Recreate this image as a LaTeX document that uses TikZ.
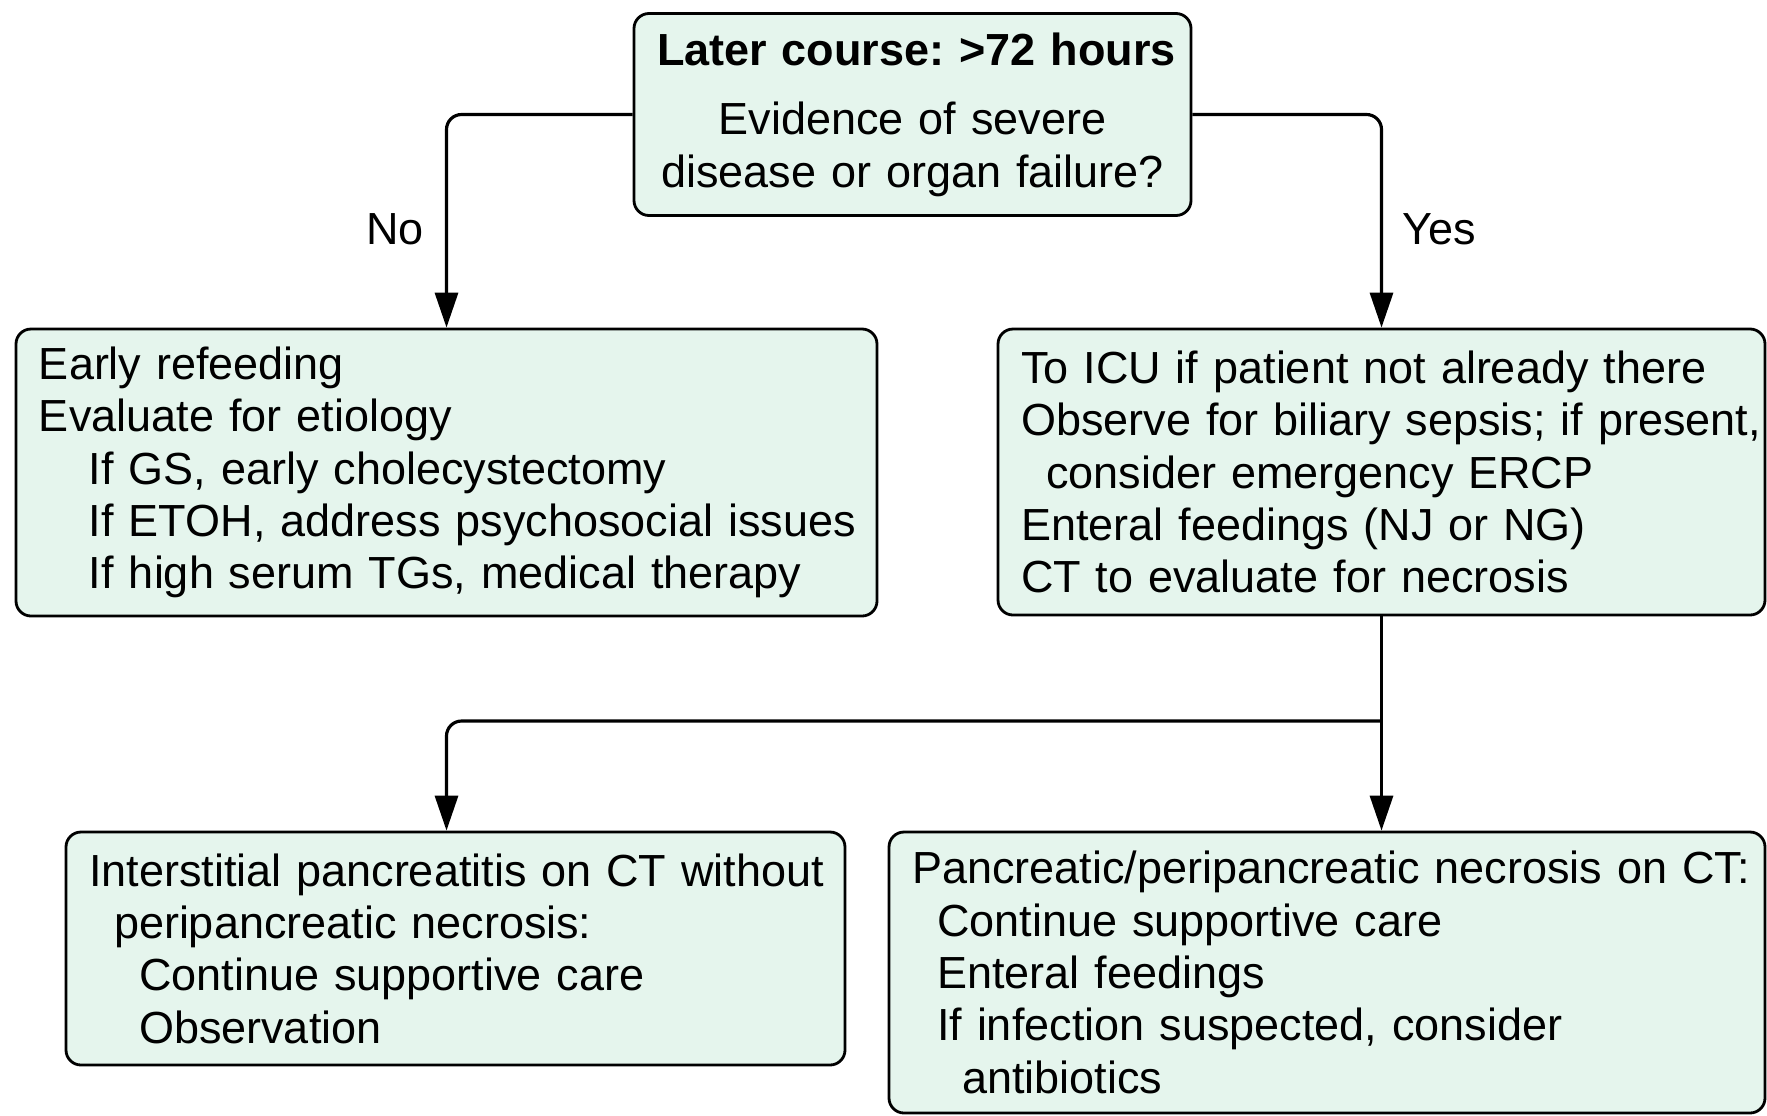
\documentclass[tikz,border=0pt]{standalone}
\usepackage{fontspec}
\setmainfont{Liberation Sans}
\frenchspacing
\usetikzlibrary{positioning,arrows.meta}
\definecolor{boxfill}{RGB}{229,245,237}
\tikzset{
  stepbox/.style={draw, line width=1.6pt, rounded corners=0.3cm, fill=boxfill,
    align=left, inner xsep=0.46cm, inner ysep=0pt, font=\fontsize{25.6}{29.8}\selectfont},
  link/.style={line width=1.8pt, rounded corners=0.3cm, -{Triangle[length=0.7cm,width=0.46cm]}},
  linklabel/.style={inner sep=0pt, font=\fontsize{25.6}{29.8}\selectfont}
}
\begin{document}
\begin{tikzpicture}[x=1cm,y=1cm]
\useasboundingbox (0,0) rectangle (35.34,-22.3);
\node[stepbox, align=center, text width=10.22cm, minimum height=4.04cm] (later) at (18.25,-2.29) {\mbox{\textbf{Later course: >72 hours}}\\[0.34cm]Evidence of severe\\disease or organ failure?};
\node[stepbox, text width=16.30cm, minimum height=5.74cm] (early) at (8.93,-9.45) {Early refeeding\\Evaluate for etiology\\\hspace*{1cm}If GS, early cholecystectomy\\\hspace*{1cm}\mbox{If ETOH, address psychosocial issues}\\\hspace*{1cm}\mbox{If high serum TGs, medical therapy}};
\node[stepbox, text width=14.42cm, minimum height=5.72cm] (icu) at (27.63,-9.44) {To ICU if patient not already there\\\mbox{Observe for biliary sepsis; if present,}\\\hspace*{0.5cm}consider emergency ERCP\\Enteral feedings (NJ or NG)\\CT to evaluate for necrosis};
\node[stepbox, text width=14.66cm, minimum height=4.66cm] (interst) at (9.11,-18.97) {\mbox{Interstitial pancreatitis on CT without}\\\hspace*{0.5cm}peripancreatic necrosis:\\\hspace*{1cm}Continue supportive care\\\hspace*{1cm}Observation};
\node[stepbox, text width=16.60cm, minimum height=5.62cm] (necro) at (26.54,-19.45) {\mbox{Pancreatic/peripancreatic necrosis on CT:}\\\hspace*{0.5cm}Continue supportive care\\\hspace*{0.5cm}Enteral feedings\\\hspace*{0.5cm}If infection suspected, consider\\\hspace*{1cm}antibiotics};

\coordinate (split) at (icu.south |- 0,-14.42);
\coordinate (interstin) at (early.south |- interst.north);

\draw[link] (later.west) -| node[linklabel, pos=0.77, left=0.42cm] {No} (early.north);
\draw[link] (later.east) -| node[linklabel, pos=0.77, right=0.38cm] {Yes} (icu.north);
\draw[line width=1.8pt] (icu.south) -- (split);
\draw[link] (split) -- (icu.south |- necro.north);
\draw[link] (split) -| (interstin);
\end{tikzpicture}
\end{document}
